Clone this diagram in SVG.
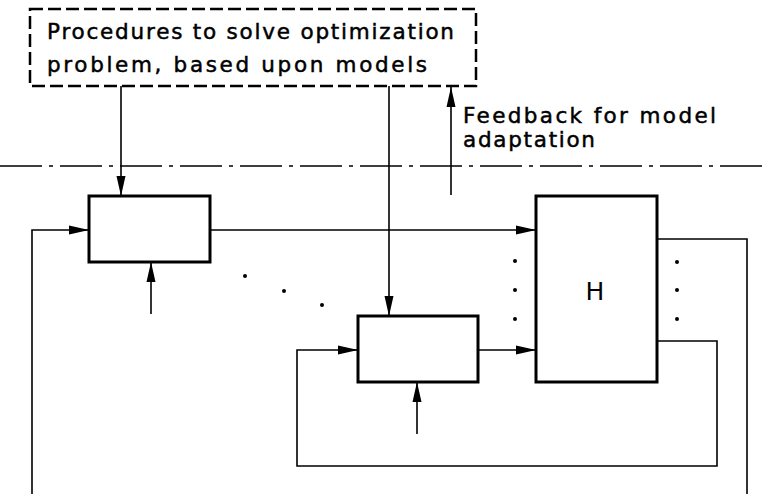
<svg xmlns="http://www.w3.org/2000/svg" width="767" height="494" viewBox="0 0 767 494">
  <style>
    .block { fill: #fff; stroke: #000; stroke-width: 3; }
    .proc { fill: none; stroke: #000; stroke-width: 2.5; stroke-dasharray: 13 5; }
    .wire { fill: none; stroke: #000; stroke-width: 1.6; }
    .arr { marker-end: url(#head); }
    .boundary { stroke: #000; stroke-width: 1.6; stroke-dasharray: 42 7 4 7; }
    .label { font-family: "DejaVu Sans", "Liberation Sans", sans-serif; font-size: 21.5px; fill: #000; stroke: #000; stroke-width: 0.5; }
    .name { font-family: "DejaVu Sans", "Liberation Sans", sans-serif; font-size: 25px; fill: #000; }
    .dot { fill: #000; }
  </style>
  <defs>
    <marker id="head" viewBox="0 0 20 10" refX="20" refY="5" markerWidth="20" markerHeight="10" markerUnits="userSpaceOnUse" orient="auto">
      <path d="M0,0.5 L20,5 L0,9.5 Z" fill="#000"/>
    </marker>
  </defs>

  <!-- boundary between optimisation level and process level -->
  <line class="boundary" x1="0" y1="166" x2="767" y2="166"/>

  <g id="connectors">
    <!-- commands from the optimisation procedures -->
    <line class="wire arr" x1="121" y1="86" x2="121" y2="196"/>
    <line class="wire arr" x1="389" y1="86" x2="389" y2="316"/>
    <!-- feedback for model adaptation -->
    <line class="wire arr" x1="451" y1="195" x2="451" y2="87"/>
    <!-- outer loop -->
    <polyline class="wire arr" points="32,494 32,230 89,230"/>
    <line class="wire arr" x1="210" y1="230" x2="536" y2="230"/>
    <polyline class="wire" points="657,239 747,239 747,494"/>
    <!-- inner loop -->
    <line class="wire arr" x1="478" y1="350" x2="536" y2="350"/>
    <polyline class="wire arr" points="657,341 717,341 717,466 297,466 297,350 358,350"/>
    <!-- disturbance inputs -->
    <line class="wire arr" x1="151" y1="314" x2="151" y2="262"/>
    <line class="wire arr" x1="417" y1="434" x2="417" y2="382"/>
  </g>

  <g id="procedures">
    <rect class="proc" x="30" y="9" width="446" height="77"/>
    <text class="label" x="47" y="39" textLength="407" lengthAdjust="spacing">Procedures to solve optimization</text>
    <text class="label" x="47" y="72" textLength="380" lengthAdjust="spacing">problem, based upon models</text>
  </g>

  <g id="feedback-label">
    <text class="label" x="463" y="123" textLength="253" lengthAdjust="spacing">Feedback for model</text>
    <text class="label" x="463" y="147" textLength="132" lengthAdjust="spacing">adaptation</text>
  </g>

  <g id="controller-1">
    <rect class="block" x="89" y="196" width="121" height="66"/>
  </g>

  <g id="controller-n">
    <rect class="block" x="358" y="316" width="120" height="66"/>
  </g>

  <g id="plant-H">
    <rect class="block" x="536" y="196" width="121" height="186"/>
    <text class="name" x="595" y="300" text-anchor="middle">H</text>
  </g>

  <g id="ellipsis">
    <circle class="dot" cx="245" cy="276" r="2"/>
    <circle class="dot" cx="284" cy="291" r="2"/>
    <circle class="dot" cx="322" cy="305" r="2"/>
    <circle class="dot" cx="515" cy="261" r="2"/>
    <circle class="dot" cx="515" cy="290" r="2"/>
    <circle class="dot" cx="515" cy="319" r="2"/>
    <circle class="dot" cx="677" cy="262" r="2"/>
    <circle class="dot" cx="677" cy="290" r="2"/>
    <circle class="dot" cx="677" cy="319" r="2"/>
  </g>
</svg>
